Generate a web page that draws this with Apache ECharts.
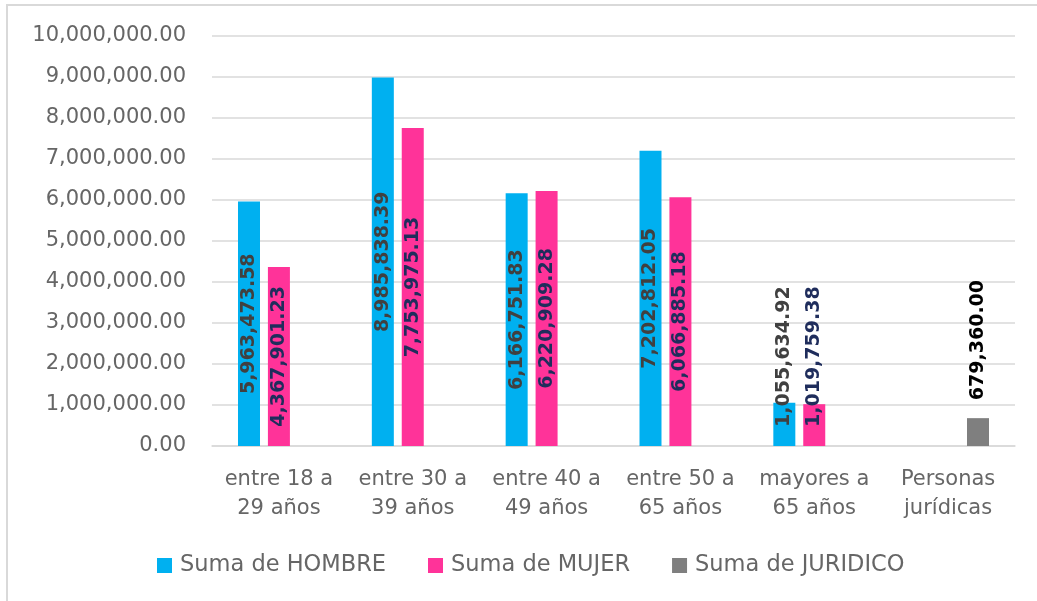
<!DOCTYPE html>
<html>
<head>
<meta charset="utf-8">
<script src="https://cdn.jsdelivr.net/npm/echarts@6/dist/echarts.min.js"></script>
<style>
html,body{margin:0;padding:0;background:#fff;}
#chart{width:1037px;height:601px;}
</style>
</head>
<body>
<div id="chart"></div>
<script>
const categories = ['entre 18 a\n29 años','entre 30 a\n39 años','entre 40 a\n49 años','entre 50 a\n65 años','mayores a\n65 años','Personas\njurídicas'];
const hombre = [5963473.58, 8985838.39, 6166751.83, 7202812.05, 1055634.92, null];
const mujer = [4367901.23, 7753975.13, 6220909.28, 6066885.18, 1019759.38, null];
const juridico = [null, null, null, null, null, 679360.00];
const seriesNames = ['Suma de HOMBRE','Suma de MUJER','Suma de JURIDICO'];
const yTicks = [0, 1000000, 2000000, 3000000, 4000000, 5000000, 6000000, 7000000, 8000000, 9000000, 10000000];

const FONT = 'DejaVu Sans';
const fmt = v => Number(v).toLocaleString('en-US',{minimumFractionDigits:2, maximumFractionDigits:2});

function buildData(arr){
  return arr.map(v => {
    if (v === null) return null;
    if (v < 2000000) {
      return {value: v, label: {position: 'insideBottom', distance: 19, align: 'left', verticalAlign: 'middle'}};
    }
    return v;
  });
}

const chart = echarts.init(document.getElementById('chart'));
const labelBase = {
  show: true, rotate: 90, position: 'inside', align: 'center', verticalAlign: 'middle',
  fontFamily: FONT, fontSize: 19, fontWeight: 'bold',
  formatter: p => fmt(p.value)
};
chart.setOption({
  animation: false,
  backgroundColor: '#fff',
  textStyle: {fontFamily: FONT},
  graphic: [
    {type:'polyline', shape:{points:[[7,601],[7,5],[1037,5]]}, style:{stroke:'#d9d9d9', lineWidth:2, fill:null}}
  ],
  grid: {left: 212, right: 22, top: 36, bottom: 155, containLabel: false},
  legend: {
    top: 549, left: 152,
    icon: 'rect', itemWidth: 15, itemHeight: 15, itemGap: 42,
    textStyle: {fontFamily: FONT, fontSize: 22.5, color: '#666666', padding: [0, 0, 0, 3]},
    data: seriesNames
  },
  xAxis: {
    type: 'category', data: categories,
    axisLine: {show: true, lineStyle: {color: '#d9d9d9', width: 1.5}},
    axisTick: {show: false},
    axisLabel: {fontFamily: FONT, fontSize: 21, color: '#666666', lineHeight: 29, margin: 19, interval: 0}
  },
  yAxis: {
    type: 'value', min: 0, max: 10000000, interval: 1000000,
    axisLine: {show: false}, axisTick: {show: false},
    splitLine: {lineStyle: {color: '#d9d9d9', width: 1.5}},
    axisLabel: {fontFamily: FONT, fontSize: 21, color: '#666666', margin: 26,
      formatter: v => yTicks.includes(v) ? fmt(v) : ''}
  },
  series: [
    {name: seriesNames[0], type: 'bar', data: buildData(hombre), barWidth: 22, barGap: '36%',
      itemStyle: {color: '#00B0F0'},
      label: Object.assign({}, labelBase, {color: '#404040'})},
    {name: seriesNames[1], type: 'bar', data: buildData(mujer), barWidth: 22, barGap: '36%',
      itemStyle: {color: '#FF3399'},
      label: Object.assign({}, labelBase, {color: '#1F2D5C'})},
    {name: seriesNames[2], type: 'bar', data: juridico, barWidth: 22, barGap: '36%',
      itemStyle: {color: '#7F7F7F'},
      label: Object.assign({}, labelBase, {color: '#000000', position: 'top', distance: 18, align: 'left'})}
  ]
});
</script>
</body>
</html>
